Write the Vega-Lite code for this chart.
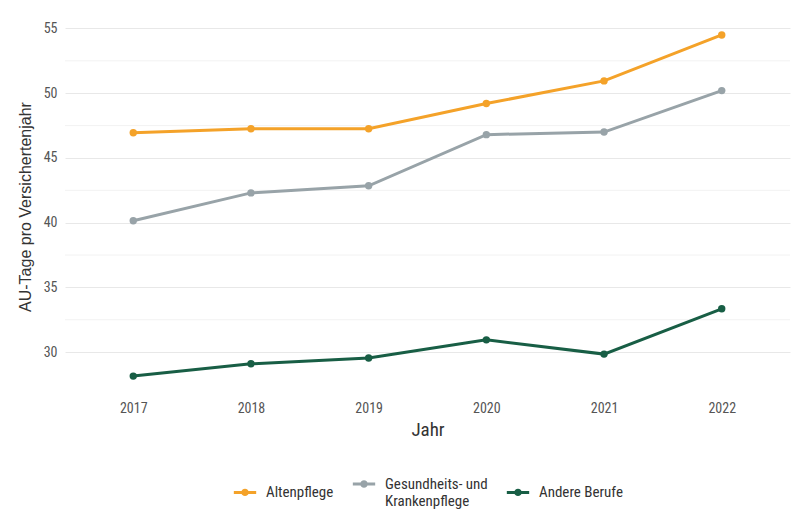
{
  "$schema": "https://vega.github.io/schema/vega-lite/v6.json",
  "autosize": {"type": "none"},
  "width": 725,
  "height": 369,
  "padding": {"left": 65, "top": 22, "right": 8, "bottom": 126},
  "background": "white",
  "config": {
    "font": "Roboto Condensed, Liberation Sans Narrow, DejaVu Sans Condensed, sans-serif",
    "view": {"stroke": null},
    "axis": {"labelFont": "Roboto Condensed, Liberation Sans Narrow, DejaVu Sans Condensed, sans-serif", "titleFont": "Roboto Condensed, Liberation Sans Narrow, DejaVu Sans Condensed, sans-serif"},
    "legend": {"labelFont": "Roboto Condensed, Liberation Sans Narrow, DejaVu Sans Condensed, sans-serif",
      "layout": {"bottom": {"anchor": "middle"}}}
  },
  "layer": [
    {
      "data": {"values": [{"Wert": 32.5}, {"Wert": 37.5}, {"Wert": 42.5}, {"Wert": 47.5}, {"Wert": 52.5}]},
      "mark": {"type": "rule", "color": "#f2f2f2", "strokeWidth": 1},
      "encoding": {"y": {"field": "Wert", "type": "quantitative"}}
    },
    {
      "data": {
        "values": [
          {"Jahr": "2017", "Gruppe": "Altenpflege", "Wert": 46.95},
          {"Jahr": "2018", "Gruppe": "Altenpflege", "Wert": 47.25},
          {"Jahr": "2019", "Gruppe": "Altenpflege", "Wert": 47.25},
          {"Jahr": "2020", "Gruppe": "Altenpflege", "Wert": 49.2},
          {"Jahr": "2021", "Gruppe": "Altenpflege", "Wert": 50.95},
          {"Jahr": "2022", "Gruppe": "Altenpflege", "Wert": 54.5},
          {"Jahr": "2017", "Gruppe": "Gesundheits- und Krankenpflege", "Wert": 40.15},
          {"Jahr": "2018", "Gruppe": "Gesundheits- und Krankenpflege", "Wert": 42.3},
          {"Jahr": "2019", "Gruppe": "Gesundheits- und Krankenpflege", "Wert": 42.85},
          {"Jahr": "2020", "Gruppe": "Gesundheits- und Krankenpflege", "Wert": 46.8},
          {"Jahr": "2021", "Gruppe": "Gesundheits- und Krankenpflege", "Wert": 47.0},
          {"Jahr": "2022", "Gruppe": "Gesundheits- und Krankenpflege", "Wert": 50.2},
          {"Jahr": "2017", "Gruppe": "Andere Berufe", "Wert": 28.15},
          {"Jahr": "2018", "Gruppe": "Andere Berufe", "Wert": 29.1},
          {"Jahr": "2019", "Gruppe": "Andere Berufe", "Wert": 29.55},
          {"Jahr": "2020", "Gruppe": "Andere Berufe", "Wert": 30.95},
          {"Jahr": "2021", "Gruppe": "Andere Berufe", "Wert": 29.85},
          {"Jahr": "2022", "Gruppe": "Andere Berufe", "Wert": 33.35}
        ]
      },
      "mark": {"type": "line", "strokeWidth": 3, "point": {"filled": true, "size": 55}},
      "encoding": {
        "x": {
          "field": "Jahr", "type": "ordinal",
          "scale": {"type": "point", "padding": 0.58},
          "axis": {"title": "Jahr", "labelAngle": 0, "ticks": false, "domain": false, "grid": false,
            "labelFontSize": 14, "labelColor": "#555555", "labelPadding": 10,
            "titleFontSize": 19, "titleColor": "#333333", "titleFontWeight": "normal", "titlePadding": 5}
        },
        "y": {
          "field": "Wert", "type": "quantitative",
          "scale": {"domain": [27, 55.5], "nice": false, "zero": false},
          "axis": {"title": "AU-Tage pro Versichertenjahr", "values": [30, 35, 40, 45, 50, 55],
            "ticks": false, "domain": false, "gridColor": "#e8e8e8", "gridWidth": 1,
            "labelFontSize": 14, "labelColor": "#555555", "labelPadding": 8,
            "titleFont": "Liberation Sans, Arial, sans-serif",
            "titleFontSize": 16, "titleColor": "#333333", "titleFontWeight": "normal", "titlePadding": 10}
        },
        "color": {
          "field": "Gruppe", "type": "nominal",
          "scale": {"domain": ["Altenpflege", "Gesundheits- und Krankenpflege", "Andere Berufe"],
            "range": ["#F4A229", "#98A3A8", "#185E45"]},
          "legend": {"title": null, "orient": "bottom", "direction": "horizontal", "offset": 32,
            "labelFontSize": 15, "labelColor": "#333333", "symbolStrokeWidth": 3, "symbolSize": 500,
            "symbolType": "M-1,0H1M-0.2,0A0.2,0.2,0,1,1,0.2,0A0.2,0.2,0,1,1,-0.2,0",
            "columnPadding": 12, "labelOffset": 8,
            "labelExpr": "datum.label == 'Gesundheits- und Krankenpflege' ? ['Gesundheits- und', 'Krankenpflege'] : datum.label"}
        }
      }
    }
  ]
}
